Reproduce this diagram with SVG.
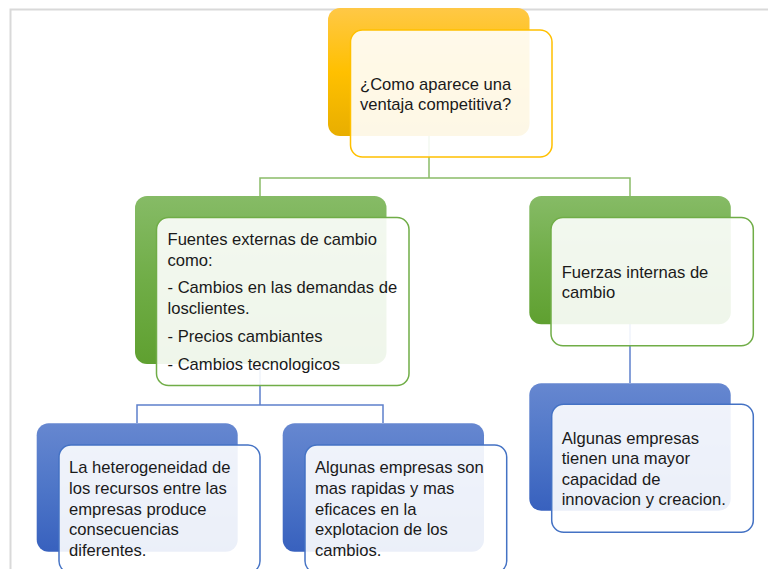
<svg xmlns="http://www.w3.org/2000/svg" width="768" height="569" viewBox="0 0 768 569">
<defs>
<linearGradient id="gGold" x1="0" y1="0" x2="0" y2="1"><stop offset="0" stop-color="#FFC846"/><stop offset="0.5" stop-color="#FFC000"/><stop offset="1" stop-color="#E8AE00"/></linearGradient>
<linearGradient id="gGreen" x1="0" y1="0" x2="0" y2="1"><stop offset="0" stop-color="#86BB66"/><stop offset="0.5" stop-color="#70AD47"/><stop offset="1" stop-color="#5FA030"/></linearGradient>
<linearGradient id="gBlue" x1="0" y1="0" x2="0" y2="1"><stop offset="0" stop-color="#6687D0"/><stop offset="0.5" stop-color="#4E76C8"/><stop offset="1" stop-color="#3861BE"/></linearGradient>
<style>
.frame{fill:none;stroke:#D9D9D9;stroke-width:2}
.cg{fill:none;stroke:#8ABC68;stroke-width:1.5}
.cb{fill:none;stroke:#5E80CC;stroke-width:1.5}
.front{fill:#FFFFFF;fill-opacity:0.9;stroke-width:1.5}
.fgold{stroke:#FFC000}
.fgreen{stroke:#70AD47}
.fblue{stroke:#4472C4}
text{font-family:"Liberation Sans",Arial,sans-serif;font-size:16.6px;fill:#1A1A1A}
</style>
</defs>
<rect x="0" y="0" width="768" height="569" fill="#FFFFFF"/>
<path class="frame" d="M10.5,569 V9.5 H768"/>
<g id="connectors">
<path class="cg" d="M429,136 V178 H260 V196 M429,178 H630 V196"/>
<path class="cb" d="M260,364 V405 H137 V423 M260,405 H383 V423"/>
<path class="cb" d="M630,324 V383"/>
</g>
<g id="node-top">
<rect x="328" y="8" width="201.5" height="128" rx="12" fill="url(#gGold)"/>
<rect class="front fgold" x="350.5" y="30" width="201.5" height="127" rx="12"/>
<text x="360" y="89.5">¿Como aparece una</text>
<text x="360" y="109.5">ventaja competitiva?</text>
</g>
<g id="node-externas">
<rect x="135" y="196" width="251.5" height="168" rx="12" fill="url(#gGreen)"/>
<rect class="front fgreen" x="156.5" y="217.5" width="252.5" height="168" rx="12"/>
<text x="167.5" y="245">Fuentes externas de cambio</text>
<text x="167.5" y="266">como:</text>
<text x="167.5" y="293.3">- Cambios en las demandas de</text>
<text x="167.5" y="314">losclientes.</text>
<text x="167.5" y="342.3">- Precios cambiantes</text>
<text x="167.5" y="370">- Cambios tecnologicos</text>
</g>
<g id="node-internas">
<rect x="529.3" y="196" width="201.5" height="128.3" rx="12" fill="url(#gGreen)"/>
<rect class="front fgreen" x="551" y="217.5" width="202.3" height="128.2" rx="12"/>
<text x="561.7" y="277.7">Fuerzas internas de</text>
<text x="561.7" y="297.7">cambio</text>
</g>
<g id="node-heterogeneidad">
<rect x="36.7" y="423.3" width="201" height="128.4" rx="12" fill="url(#gBlue)"/>
<rect class="front fblue" x="59" y="445" width="201" height="128" rx="12"/>
<text x="69" y="473.3">La heterogeneidad de</text>
<text x="69" y="494">los recursos entre las</text>
<text x="69" y="514.7">empresas produce</text>
<text x="69" y="535.4">consecuencias</text>
<text x="69" y="556">diferentes.</text>
</g>
<g id="node-rapidas">
<rect x="282.7" y="423.3" width="201.3" height="128.4" rx="12" fill="url(#gBlue)"/>
<rect class="front fblue" x="305" y="445" width="201.7" height="128" rx="12"/>
<text x="315" y="473.3">Algunas empresas son</text>
<text x="315" y="494">mas rapidas y mas</text>
<text x="315" y="514.7">eficaces en la</text>
<text x="315" y="535.4">explotacion de los</text>
<text x="315" y="556">cambios.</text>
</g>
<g id="node-innovacion">
<rect x="529.3" y="383.3" width="201.4" height="127.4" rx="12" fill="url(#gBlue)"/>
<rect class="front fblue" x="551.7" y="404.3" width="201.6" height="128" rx="12"/>
<text x="561.7" y="444">Algunas empresas</text>
<text x="561.7" y="464.3">tienen una mayor</text>
<text x="561.7" y="484.6">capacidad de</text>
<text x="561.7" y="505">innovacion y creacion.</text>
</g>
</svg>
